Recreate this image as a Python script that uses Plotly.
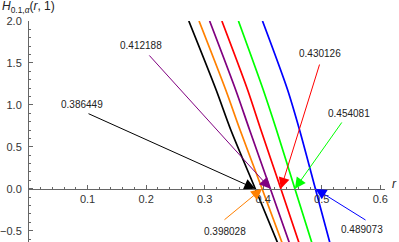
import plotly.graph_objects as go

# ---- data ----
H_levels = [2.0, 1.18, 0.70, 0.0, -0.64]
curve_colors = ["black", "#FF8000", "#800080", "#FF0000", "#00FF00", "#0000FF"]
curve_r = [
    [0.2729, 0.3195, 0.3447, 0.386449, 0.4243],
    [0.2904, 0.3359, 0.3605, 0.398028, 0.4320],
    [0.3085, 0.3529, 0.3768, 0.412188, 0.4444],
    [0.3294, 0.3733, 0.3961, 0.430126, 0.4609],
    [0.3577, 0.4000, 0.4227, 0.454081, 0.4829],
    [0.3988, 0.4416, 0.4621, 0.489073, 0.5137],
]
roots = [0.386449, 0.398028, 0.412188, 0.430126, 0.454081, 0.489073]
root_labels = ["0.386449", "0.398028", "0.412188", "0.430126", "0.454081", "0.489073"]
# label text positions and arrow tails (r, H)
label_pos = [(0.0905, 0.999), (0.3348, -0.515), (0.1913, 1.702),
             (0.497, 1.607), (0.5465, 0.903), (0.5687, -0.491)]
tail_pos = [(0.0991, 0.903), (0.3313, -0.384), (0.2032, 1.607),
            (0.497, 1.499), (0.536, 0.808), (0.5773, -0.384)]

x_ticks = [0.1, 0.2, 0.3, 0.4, 0.5, 0.6]
y_ticks = [-0.5, 0.0, 0.5, 1.0, 1.5, 2.0]

XR = [0, 0.608]
YR = [-0.635, 2.0]

fig = go.Figure()
for rr, c in zip(curve_r, curve_colors):
    fig.add_trace(go.Scatter(x=rr, y=H_levels, mode="lines",
                             line=dict(color=c, width=1.7, shape="spline", smoothing=0.8),
                             showlegend=False, hoverinfo="skip"))

ann = []
for root, lab, lp, tp, c in zip(roots, root_labels, label_pos, tail_pos, curve_colors):
    ann.append(dict(x=root, y=0, ax=tp[0], ay=tp[1], axref="x", ayref="y",
                    xref="x", yref="y", text="", showarrow=True,
                    arrowhead=2, arrowsize=2.2, arrowwidth=1, arrowcolor=c,
                    standoff=0, startstandoff=0))
    ann.append(dict(x=lp[0], y=lp[1], xref="x", yref="y", text=lab,
                    showarrow=False, font=dict(size=10, color="#222"),
                    xanchor="center", yanchor="middle"))

ann.append(dict(x=0, y=1.062, xref="paper", yref="paper", xshift=-29,
                text="<i>H</i><sub>0.1,<i>α</i></sub>(<i>r</i>, 1)",
                showarrow=False, xanchor="left", yanchor="middle",
                font=dict(size=12, color="#222")))
ann.append(dict(x=1, y=0, xref="paper", yref="y", xshift=9, yshift=5,
                text="<i>r</i>", showarrow=False, xanchor="center",
                yanchor="middle", font=dict(size=12, color="#222")))

axis_col = "#666"
fig.update_layout(
    width=399, height=242,
    margin=dict(l=29, r=14, t=21, b=0),
    paper_bgcolor="white", plot_bgcolor="white",
    font=dict(family="Liberation Sans, Arial, sans-serif", color="#333", size=11),
    annotations=ann,
    xaxis=dict(range=XR, anchor="free",
               position=(0 - YR[0]) / (YR[1] - YR[0]),
               showgrid=False, zeroline=False, showline=True,
               linecolor=axis_col, linewidth=1,
               tickmode="array", tickvals=x_ticks,
               ticktext=[f"{v:.1f}" for v in x_ticks],
               ticks="inside", ticklen=4, tickcolor=axis_col, tickwidth=1,
               minor=dict(dtick=0.02, tick0=0, ticks="inside", ticklen=2,
                          tickcolor=axis_col, showgrid=False),
               tickfont=dict(size=11, color="#333")),
    yaxis=dict(range=YR, showgrid=False, zeroline=False, showline=True,
               linecolor=axis_col, linewidth=1,
               tickmode="array", tickvals=y_ticks,
               ticktext=[("\u2212" if v < 0 else "") + f"{abs(v):.1f}" for v in y_ticks],
               ticks="inside", ticklen=4, tickcolor=axis_col, tickwidth=1,
               minor=dict(dtick=0.1, tick0=0, ticks="inside", ticklen=2,
                          tickcolor=axis_col, showgrid=False),
               ticklabelstandoff=4,
               tickfont=dict(size=11, color="#333")),
)

fig.write_html("out.html", config={"displayModeBar": False},
               post_script="document.body.style.margin='0';document.body.style.padding='0';")
